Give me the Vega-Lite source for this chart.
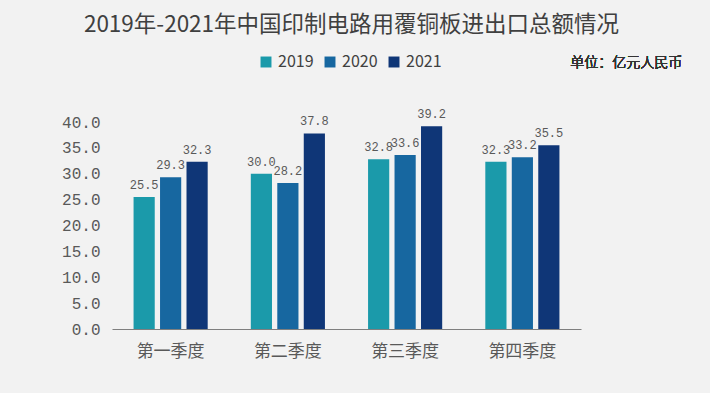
{
  "$schema": "https://vega.github.io/schema/vega-lite/v6.json",
  "autosize": {"type": "none"},
  "width": 469,
  "height": 207,
  "padding": {"left": 112, "top": 122, "right": 129, "bottom": 64},
  "background": "#f2f2f2",
  "title": {
    "text": "2019年-2021年中国印制电路用覆铜板进出口总额情况",
    "font": "Noto Sans CJK SC",
    "fontSize": 22.5,
    "fontWeight": "normal",
    "color": "#404040",
    "anchor": "middle",
    "dx": 5,
    "offset": 18
  },
  "config": {
    "view": {"stroke": null},
    "font": "Noto Sans CJK SC"
  },
  "data": {
    "values": [
      {"quarter": "第一季度", "year": "2019", "value": 25.5},
      {"quarter": "第一季度", "year": "2020", "value": 29.3},
      {"quarter": "第一季度", "year": "2021", "value": 32.3},
      {"quarter": "第二季度", "year": "2019", "value": 30.0},
      {"quarter": "第二季度", "year": "2020", "value": 28.2},
      {"quarter": "第二季度", "year": "2021", "value": 37.8},
      {"quarter": "第三季度", "year": "2019", "value": 32.8},
      {"quarter": "第三季度", "year": "2020", "value": 33.6},
      {"quarter": "第三季度", "year": "2021", "value": 39.2},
      {"quarter": "第四季度", "year": "2019", "value": 32.3},
      {"quarter": "第四季度", "year": "2020", "value": 33.2},
      {"quarter": "第四季度", "year": "2021", "value": 35.5}
    ]
  },
  "encoding": {
    "x": {
      "field": "quarter", "type": "nominal", "sort": null,
      "scale": {"paddingInner": 0.3, "paddingOuter": 0.15},
      "axis": {
        "title": null, "labelAngle": 0, "ticks": false,
        "domainColor": "#7f7f7f", "domainWidth": 1,
        "labelFont": "Noto Sans CJK SC", "labelFontSize": 17,
        "labelColor": "#595959", "labelPadding": 14
      }
    },
    "xOffset": {
      "field": "year", "type": "nominal",
      "scale": {"paddingInner": 0.2, "paddingOuter": 0.15}
    },
    "y": {
      "field": "value", "type": "quantitative",
      "scale": {"domain": [0, 40]},
      "axis": {
        "title": null, "values": [0, 5, 10, 15, 20, 25, 30, 35, 40],
        "format": ".1f", "grid": false, "domain": false, "ticks": false,
        "labelFont": "Liberation Mono", "labelFontSize": 16,
        "labelColor": "#595959", "labelPadding": 12
      }
    }
  },
  "layer": [
    {
      "mark": {"type": "bar"},
      "encoding": {
        "color": {
          "field": "year", "type": "nominal",
          "scale": {"domain": ["2019", "2020", "2021"], "range": ["#1b9aaa", "#1767a0", "#0f3677"]},
          "legend": {
            "title": null, "orient": "none", "direction": "horizontal",
            "legendX": 146, "legendY": -68,
            "symbolType": "square", "symbolSize": 120, "symbolStrokeWidth": 0,
            "labelFont": "Noto Sans CJK SC", "labelFontSize": 16,
            "labelColor": "#404040", "columnPadding": 8, "labelOffset": 4
          }
        }
      }
    },
    {
      "mark": {"type": "text", "baseline": "bottom", "dy": -5, "font": "Liberation Mono", "fontSize": 12, "color": "#595959"},
      "encoding": {
        "text": {"field": "value", "type": "quantitative", "format": ".1f"}
      }
    },
    {
      "mark": {"type": "text", "align": "left", "baseline": "middle", "dx": 89, "font": "Noto Sans CJK SC", "fontSize": 14, "fontWeight": 300, "color": "#333333"},
      "encoding": {
        "x": {"datum": "第四季度"},
        "y": {"datum": 51.4},
        "xOffset": {"value": 0},
        "text": {"value": "单位：亿元人民币"}
      }
    }
  ]
}
